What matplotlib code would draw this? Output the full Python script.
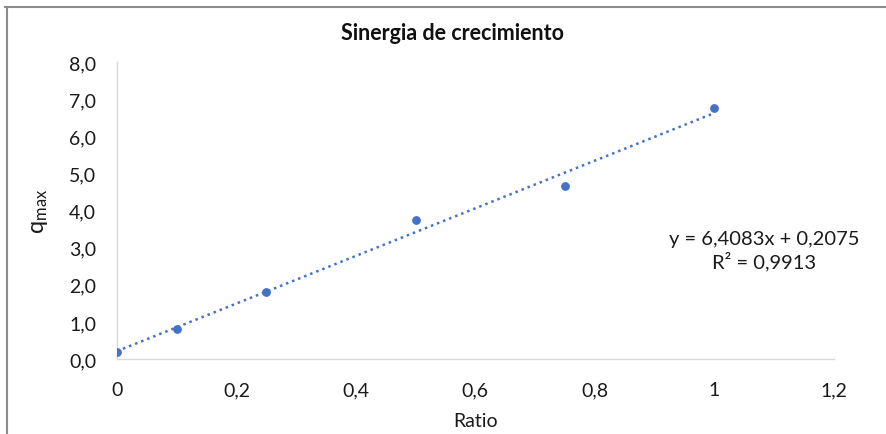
import numpy as np
import matplotlib
matplotlib.use("Agg")
import matplotlib.pyplot as plt
from matplotlib.lines import Line2D
from matplotlib.ticker import FuncFormatter

plt.rcParams['font.family'] = ['Lato', 'DejaVu Sans']
plt.rcParams['mathtext.fontset'] = 'custom'
plt.rcParams['mathtext.rm'] = 'Lato'
plt.rcParams['mathtext.it'] = 'Lato:italic'

# Data
ratio = [0, 0.1, 0.25, 0.5, 0.75, 1.0]
qmax = [0.2, 0.8, 1.8, 3.75, 4.65, 6.75]
eq_text = "y = 6,4083x + 0,2075\nR² = 0,9913"
x_ticks = [0, 0.2, 0.4, 0.6, 0.8, 1.0, 1.2]
y_ticks = [0, 1, 2, 3, 4, 5, 6, 7, 8]

color = '#4472C4'

fig = plt.figure(figsize=(8.86, 4.35), dpi=100)
ax = fig.add_axes([0.132, 0.1724, 0.809, 0.6826])

ax.scatter(ratio, qmax, s=28, color=color, zorder=3)
slope, intercept = np.polyfit(ratio, qmax, 1)
xs = np.array([min(ratio), max(ratio)])
ax.plot(xs, slope * xs + intercept, linestyle=(0, (1, 1.6)), color=color, linewidth=1.8, zorder=2)

ax.set_xlim(0, 1.2)
ax.set_ylim(0, 8)
ax.set_xticks(x_ticks)
ax.set_yticks(y_ticks)

def xfmt(v, pos):
    s = ('%g' % round(v, 2))
    return s.replace('.', ',')

ax.xaxis.set_major_formatter(FuncFormatter(xfmt))
ax.yaxis.set_major_formatter(FuncFormatter(lambda v, p: ('%.1f' % v).replace('.', ',')))
ax.tick_params(axis='both', length=0, labelsize=14, colors='#1a1a1a')
ax.tick_params(axis='x', pad=16)
ax.tick_params(axis='y', pad=15)

for s in ['top', 'right']:
    ax.spines[s].set_visible(False)
for s in ['left', 'bottom']:
    ax.spines[s].set_color('#d9d9d9')
    ax.spines[s].set_linewidth(1.0)

ax.set_xlabel('Ratio', fontsize=14, color='#1a1a1a', labelpad=10)
ax.set_ylabel(r'q$_{\mathrm{max}}$', fontsize=17, color='#1a1a1a', labelpad=14)

fig.text(0.511, 0.923, 'Sinergia de crecimiento', ha='center', va='center',
         fontsize=15.5, fontweight='bold', color='#111111')

fig.text(764 / 886, 1 - 251 / 435, eq_text, ha='center', va='center',
         multialignment='center', fontsize=14.5, color='#1a1a1a', linespacing=1.25)

# Frame lines (cropped chart border)
fig.add_artist(Line2D([5 / 886, 1.0], [1 - 8 / 435, 1 - 8 / 435], transform=fig.transFigure,
                      color='#8c8c8c', linewidth=1.5))
fig.add_artist(Line2D([7 / 886, 7 / 886], [0, 1 - 8 / 435], transform=fig.transFigure,
                      color='#8c8c8c', linewidth=1.5))

fig.savefig('out.png', dpi=100)
